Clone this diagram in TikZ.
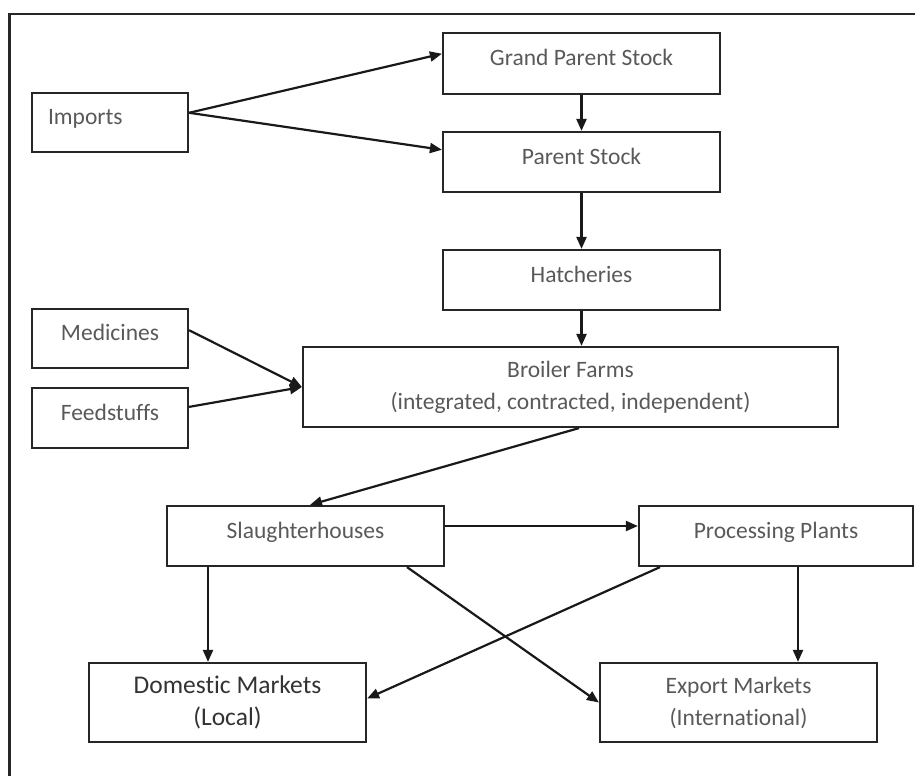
\documentclass[tikz,border=0pt]{standalone}
\usepackage{fontspec}
\setmainfont{Carlito}[Ligatures=NoCommon]
\usetikzlibrary{arrows.meta}

\begin{document}
\begin{tikzpicture}[x=0.5pt,y=-0.5pt,
    block/.style ={draw=black!85, line width=1.1pt, inner sep=0pt, text=black!65,
      minimum width=138.5pt, minimum height=30pt, font=\fontsize{11.75}{16}\selectfont},
    single/.style ={text height=8.8pt, text depth=6.5pt},
    flow/.style ={draw=black!90, line width=1.1pt, -{Triangle[length=6pt,width=5pt]}}]
   \useasboundingbox (0,0) rectangle (915,776);
   \draw[line width=1.1pt, black!85] (9.5,776) -- (9.5,14) -- (915,14);

   \node[block, single, minimum width=78pt, minimum height=29.5pt, text width=62pt, align=left, inner xsep=8pt] (imp) at (110,122.5) {Imports};
   \node[block, single, minimum height=30.5pt] (gps) at (581.5,63.5) {Grand Parent Stock};
   \node[block, single] (ps)  at (581.5,162) {Parent Stock};
   \node[block, single] (hat) at (581.5,280) {Hatcheries};
   \node[block, single, minimum width=78pt, minimum height=29.5pt] (med) at (110,338.5) {Medicines};
   \node[block, single, minimum width=78pt] (feed) at (110,418) {Feedstuffs};
   \node[block, align=center, minimum width=267.5pt, minimum height=40pt] (farm) at (570.5,387) {Broiler Farms\\(integrated, contracted, independent)};
   \node[block, single] (sla)  at (305.5,536) {Slaughterhouses};
   \node[block, single, minimum width=137pt] (proc) at (776,536) {Processing Plants};
   \node[block, align=center, minimum height=39.5pt, font=\fontsize{12.75}{16}\selectfont, text=black!80] (dom) at (227.5,702.5) {Domestic Markets\\(Local)};
   \node[block, align=center, minimum height=39.5pt] (exp) at (738.5,702.5) {Export Markets\\(International)};

   \draw[flow] (imp.7.7) -- (gps.176.9);
   \draw[flow] (imp.7.7) -- (ps.175.5);
   \draw[flow] (gps) -- (ps);
   \draw[flow] (ps) -- (hat);
   \draw[flow] (hat.south) -- (hat.south |- farm.north);
   \draw[flow] (med.6.9) -- (farm.west);
   \draw[flow] (feed.8) -- (farm.west);
   \draw[flow] ([xshift=4.25pt]farm.south) -- ([xshift=2.25pt]sla.north);
   \draw[flow] ([yshift=5pt]sla.east) -- ([yshift=5pt]proc.west);
   \draw[flow] ([xshift=-48.75pt]sla.south) -- ([xshift=-9.75pt]dom.north);
   \draw[flow] ([xshift=50.75pt]sla.south) -- (exp.west);
   \draw[flow] ([xshift=-58pt]proc.south) -- ([yshift=2pt]dom.east);
   \draw[flow] ([xshift=11pt]proc.south) -- ([xshift=29.75pt]exp.north);
\end{tikzpicture}
\end{document}
